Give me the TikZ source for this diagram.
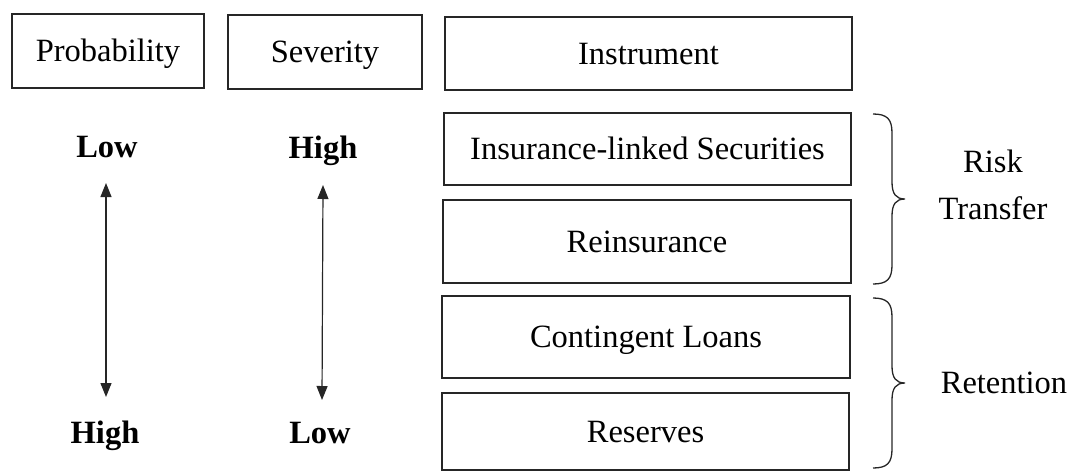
\documentclass[tikz,border=0pt]{standalone}
\usepackage{fontspec}
\setmainfont{Liberation Serif}
\usetikzlibrary{arrows.meta}
\begin{document}
\begin{tikzpicture}[x=1pt,y=-1pt,
  cen/.style={text height=29.3pt,text depth=7.8pt},
  box/.style={cen,draw=black!85,line width=1.3pt,inner sep=0pt,font=\fontsize{32.5}{38}\selectfont},
  lbl/.style={cen,inner sep=0pt,font=\fontsize{32.5}{38}\selectfont\bfseries},
  txt/.style={cen,inner sep=0pt,font=\fontsize{32.5}{38}\selectfont},
  dbl/.style={line width=1.2pt,draw=black!85,{Triangle[width=11pt,length=14pt]}-{Triangle[width=11pt,length=14pt]}},
  brc/.style={line width=1.3pt,draw=black!85}]
\useasboundingbox (0,0) rectangle (1070,472);
\node[box,minimum width=192pt,minimum height=74pt] (prob) at (108,51) {Probability};
\node[box,minimum width=194pt,minimum height=74pt] (sev) at (325,52) {Severity};
\node[box,minimum width=407pt,minimum height=73pt] (inst) at (648.5,53.5) {Instrument};
\node[box,minimum width=407pt,minimum height=72pt] (ils) at (647.5,149) {Insurance-linked Securities};
\node[box,minimum width=408pt,minimum height=83pt] (rein) at (647,241.5) {Reinsurance};
\node[box,minimum width=408pt,minimum height=82pt] (cont) at (646,337) {Contingent Loans};
\node[box,minimum width=407pt,minimum height=77pt] (res) at (645.5,431.5) {Reserves};
\node[lbl] (plow) at (107,147) {Low};
\node[lbl] (shigh) at (323,148) {High};
\node[lbl] (phigh) at (105,433) {High};
\node[lbl] (slow) at (320,433) {Low};
\coordinate (pa) at (106,183);
\coordinate (pb) at (106,397);
\coordinate (sa) at (323,185);
\coordinate (sb) at (322,400);
\draw[dbl] (pa) -- (pb);
\draw[dbl] (sa) -- (sb);
% braces
\coordinate (t1) at (873,114);
\coordinate (t2) at (905,199);
\coordinate (t3) at (873,284);
\draw[brc] (t1) .. controls (887,114) and (892,119) .. (892,133) -- (892,182)
  .. controls (892,194) and (896,199) .. (t2)
  .. controls (896,199) and (892,204) .. (892,216) -- (892,265)
  .. controls (892,279) and (887,284) .. (t3);
\coordinate (b1) at (873,298);
\coordinate (b2) at (905,383);
\coordinate (b3) at (873,468);
\draw[brc] (b1) .. controls (887,298) and (892,303) .. (892,317) -- (892,366)
  .. controls (892,378) and (896,383) .. (b2)
  .. controls (896,383) and (892,388) .. (892,400) -- (892,449)
  .. controls (892,463) and (887,468) .. (b3);
\node[txt] (risk) at (993,162) {Risk};
\node[txt] (transfer) at (993,209) {Transfer};
\node[txt] (ret) at (1004,383) {Retention};
\end{tikzpicture}
\end{document}
